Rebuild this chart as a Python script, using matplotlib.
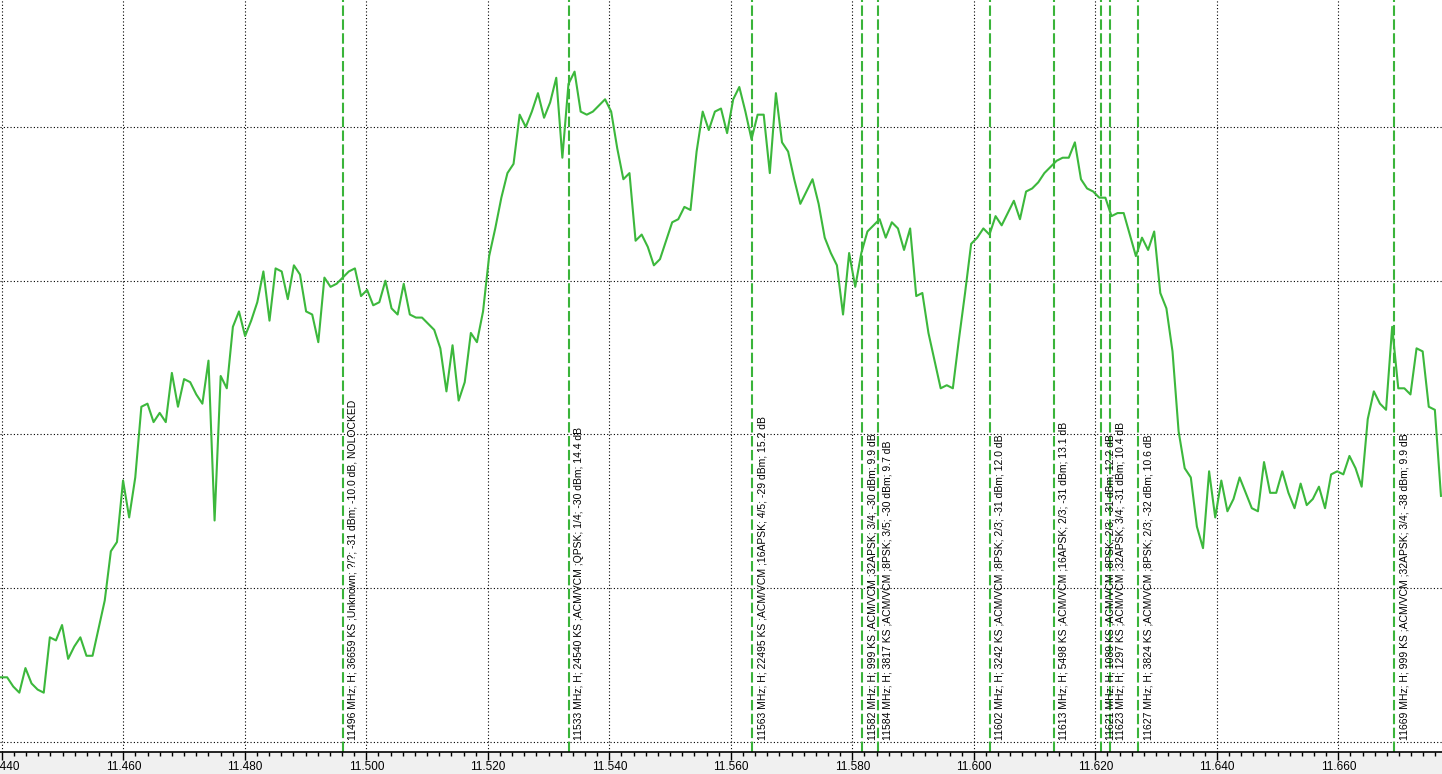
import numpy as np
import matplotlib
matplotlib.use('Agg')
from matplotlib import pyplot as plt
from matplotlib.ticker import MultipleLocator, FormatStrFormatter

plt.rcParams['lines.scale_dashes'] = False  # dash lengths in points, not in line widths

# spectrum trace, one sample per step from f_start to f_stop (dBm)
f_start, f_stop = 11.43987, 11.67690
level_dbm = [
    -52.9, -52.9, -53.2, -53.4, -52.6, -53.1, -53.3, -53.4, -51.6, -51.7,
    -51.2, -52.3, -51.9, -51.6, -52.2, -52.2, -51.3, -50.4, -48.8, -48.5,
    -46.5, -47.7, -46.4, -44.1, -44.0, -44.6, -44.3, -44.6, -43.0, -44.1,
    -43.2, -43.3, -43.7, -44.0, -42.6, -47.8, -43.1, -43.5, -41.5, -41.0,
    -41.8, -41.3, -40.7, -39.7, -41.3, -39.6, -39.7, -40.6, -39.5, -39.8,
    -41.0, -41.1, -42.0, -39.9, -40.2, -40.1, -39.9, -39.7, -39.6, -40.5,
    -40.3, -40.8, -40.7, -40.0, -40.9, -41.1, -40.1, -41.1, -41.2, -41.2,
    -41.4, -41.6, -42.2, -43.6, -42.1, -43.9, -43.3, -41.7, -42.0, -41.0,
    -39.2, -38.3, -37.3, -36.5, -36.2, -34.6, -35.0, -34.5, -33.9, -34.7,
    -34.2, -33.4, -36.0, -33.6, -33.2, -34.5, -34.6, -34.5, -34.3, -34.1,
    -34.5, -35.7, -36.7, -36.5, -38.7, -38.5, -38.9, -39.5, -39.3, -38.7,
    -38.1, -38.0, -37.6, -37.7, -35.8, -34.5, -35.1, -34.5, -34.4, -35.2,
    -34.1, -33.7, -34.5, -35.4, -34.6, -34.6, -36.5, -33.9, -35.5, -35.8,
    -36.7, -37.5, -37.1, -36.7, -37.5, -38.6, -39.1, -39.5, -41.1, -39.1,
    -40.2, -39.1, -38.4, -38.2, -38.0, -38.6, -38.1, -38.3, -39.0, -38.3,
    -40.5, -40.4, -41.7, -42.6, -43.5, -43.4, -43.5, -41.9, -40.4, -38.8,
    -38.6, -38.3, -38.5, -37.9, -38.2, -37.8, -37.4, -38.0, -37.1, -37.0,
    -36.8, -36.5, -36.3, -36.1, -36.0, -36.0, -35.5, -36.7, -37.0, -37.1,
    -37.3, -37.3, -37.9, -37.8, -37.8, -38.5, -39.2, -38.6, -39.0, -38.4,
    -40.4, -40.9, -42.3, -44.9, -46.1, -46.4, -48.0, -48.7, -46.2, -47.7,
    -46.5, -47.5, -47.1, -46.4, -46.9, -47.4, -47.5, -45.9, -46.9, -46.9,
    -46.2, -46.9, -47.4, -46.6, -47.3, -47.1, -46.7, -47.4, -46.3, -46.2,
    -46.3, -45.7, -46.1, -46.7, -44.5, -43.6, -44.0, -44.2, -41.5, -43.5,
    -43.5, -43.7, -42.2, -42.3, -44.1, -44.2, -47.0,
]
freq = np.linspace(f_start, f_stop, len(level_dbm))

# transponder markers (GHz) and their labels
marker_freq = [11.4961, 11.5334, 11.5635, 11.5816, 11.5842, 11.6026,
               11.6132, 11.6209, 11.6225, 11.6271, 11.6692]
marker_text = [
    "11496 MHz; H; 36659 KS ;Unknown; ?/?; -31 dBm; -10.0 dB, NOLOCKED",
    "11533 MHz; H; 24540 KS ;ACM/VCM ;QPSK; 1/4; -30 dBm; 14.4 dB",
    "11563 MHz; H; 22495 KS ;ACM/VCM ;16APSK; 4/5; -29 dBm; 15.2 dB",
    "11582 MHz; H; 999 KS ;ACM/VCM ;32APSK; 3/4; -30 dBm; 9.9 dB",
    "11584 MHz; H; 3817 KS ;ACM/VCM ;8PSK; 3/5; -30 dBm; 9.7 dB",
    "11602 MHz; H; 3242 KS ;ACM/VCM ;8PSK; 2/3; -31 dBm; 12.0 dB",
    "11613 MHz; H; 5498 KS ;ACM/VCM ;16APSK; 2/3; -31 dBm; 13.1 dB",
    "11621 MHz; H; 1089 KS ;ACM/VCM ;8PSK; 2/3; -31 dBm; 12.2 dB",
    "11623 MHz; H; 1297 KS ;ACM/VCM ;32APSK; 3/4; -31 dBm; 10.4 dB",
    "11627 MHz; H; 3824 KS ;ACM/VCM ;8PSK; 2/3; -32 dBm; 10.6 dB",
    "11669 MHz; H; 999 KS ;ACM/VCM ;32APSK; 3/4; -38 dBm; 9.9 dB",
]

fig = plt.figure(figsize=(14.42, 7.74), dpi=100, facecolor='#f0f0f0')
ax = fig.add_axes([0, 22 / 774, 1, 752 / 774])
ax.set_facecolor('white')

ax.plot(freq, level_dbm, color='#3cb83c', lw=1.5, zorder=3)

xaxis_tr = ax.get_xaxis_transform()
for f, t in zip(marker_freq, marker_text):
    ax.axvline(f, color='#3ab43a', lw=1.5, linestyle=(0, (7.5, 2.5)), zorder=2)
    ax.annotate(t, xy=(f, 0), xycoords=xaxis_tr, xytext=(5, 12),
                textcoords='offset pixels', rotation=90, ha='left', va='bottom',
                fontsize=7.5, family='Liberation Sans', color='black', zorder=4)

ax.set_xlim(11.4397, 11.67707)
ax.set_ylim(-55.33, -30.87)
ax.xaxis.set_major_locator(MultipleLocator(0.02))
ax.xaxis.set_minor_locator(MultipleLocator(0.002))
ax.xaxis.set_major_formatter(FormatStrFormatter('%.3f'))
ax.yaxis.set_major_locator(MultipleLocator(5))
ax.tick_params(axis='y', left=False, labelleft=False)
ax.tick_params(axis='x', which='major', direction='out', length=6, width=1,
               pad=0.5, labelsize=8.5)
ax.tick_params(axis='x', which='minor', direction='out', length=3, width=1)
for lbl in ax.get_xticklabels():
    lbl.set_family('Liberation Sans')

ax.grid(True, which='major', color='black', linestyle=(0, (0.8, 1.6)), lw=0.8, zorder=1)
ax.set_axisbelow(True)
for s in ['left', 'right', 'top']:
    ax.spines[s].set_visible(False)
ax.spines['bottom'].set_linewidth(1.2)

fig.savefig('out.png', dpi=100, facecolor=fig.get_facecolor())
